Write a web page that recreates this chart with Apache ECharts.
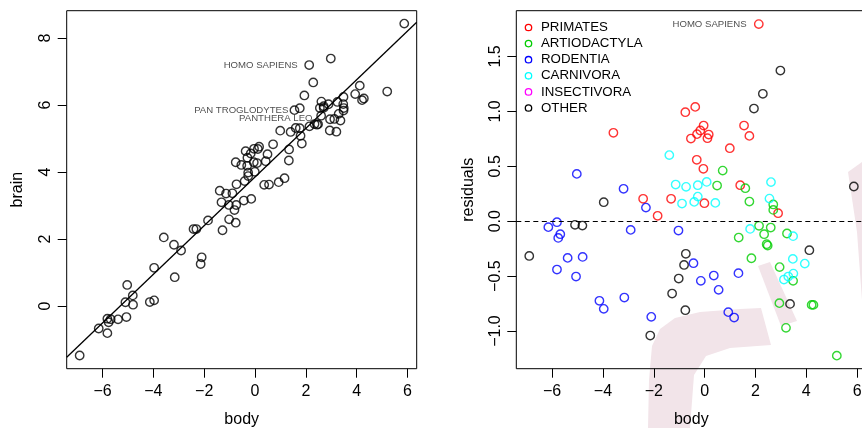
<!DOCTYPE html>
<html>
<head>
<meta charset="utf-8">
<script src="https://cdn.jsdelivr.net/npm/echarts@6/dist/echarts.min.js"></script>
<style>
  html, body { margin: 0; padding: 0; background: #fff; }
  #myChart { width: 862px; height: 428px; }
</style>
</head>
<body>
<div id="myChart"></div>
<script>
// log body weight (x) and residuals from the brain ~ body fit, per order
const orders = ['PRIMATES', 'ARTIODACTYLA', 'RODENTIA', 'CARNIVORA', 'INSECTIVORA', 'OTHER'];
const orderColors = ['#ff0000', '#00cd00', '#0000ff', '#00ffff', '#ff00ff', '#000000'];

const primatesBody = [2.13, -3.59, -0.76, -0.37, -0.04, -0.17, -0.30, -0.54, 0.16, 0.11, 1.55, 1.76, 0.99, -0.31, -0.05, 1.40, -2.42, -1.32, -0.01, 2.89, -1.85];
const primatesResid = [1.795, 0.805, 0.993, 1.041, 0.871, 0.826, 0.793, 0.753, 0.789, 0.756, 0.871, 0.777, 0.665, 0.559, 0.477, 0.328, 0.204, 0.204, 0.164, 0.073, 0.049];

const artioBody = [0.71, 0.49, 1.60, 1.76, 2.70, 2.70, 2.14, 2.60, 2.34, 1.34, 3.24, 2.44, 2.48, 1.84, 2.95, 3.48, 2.94, 4.21, 4.28, 3.20, 5.20];
const artioResid = [0.461, 0.325, 0.301, 0.179, 0.153, 0.103, -0.042, -0.058, -0.118, -0.149, -0.112, -0.209, -0.222, -0.337, -0.418, -0.543, -0.746, -0.762, -0.762, -0.971, -1.224];

const rodentBody = [-5.03, -3.19, -2.31, -5.81, -6.15, -5.68, -5.76, -2.91, -1.03, -5.39, -4.80, -5.81, -5.06, -4.14, -3.97, -3.16, -2.10, -0.44, -0.15, 0.36, 0.55, 1.33, 0.93, 1.16];
const rodentResid = [0.431, 0.295, 0.124, -0.009, -0.054, -0.118, -0.152, -0.079, -0.085, -0.334, -0.325, -0.440, -0.504, -0.725, -0.798, -0.695, -0.871, -0.382, -0.543, -0.495, -0.625, -0.473, -0.828, -0.877];

const carnBody = [-1.39, -1.14, -0.73, -0.27, 0.08, 2.61, -0.89, -0.41, -0.27, 0.42, 2.55, 1.79, 3.48, 3.47, 3.94, 3.49, 3.29, 3.12];
const carnResid = [0.602, 0.334, 0.313, 0.328, 0.358, 0.356, 0.161, 0.176, 0.224, 0.167, 0.206, -0.070, -0.136, -0.343, -0.386, -0.477, -0.504, -0.531];

const insectBody = [];
const insectResid = [];

const otherBody = [2.98, 2.29, 1.94, 5.87, -3.97, -5.10, -4.81, -6.90, -0.74, -0.81, -1.02, -1.28, -0.76, -2.14, 4.12, 3.36];
const otherResid = [1.372, 1.160, 1.026, 0.316, 0.173, -0.033, -0.040, -0.316, -0.297, -0.398, -0.522, -0.659, -0.810, -1.041, -0.264, -0.753];

const bodyByOrder = [primatesBody, artioBody, rodentBody, carnBody, insectBody, otherBody];
const residByOrder = [primatesResid, artioResid, rodentResid, carnResid, insectResid, otherResid];

// fitted line brain = a + b * body
const fitCoef = [3.853, 0.726];

// text labels (right end of text, in data units)
const leftLabels = ['HOMO SAPIENS', 'PAN TROGLODYTES', 'PANTHERA LEO'];
const leftLabelX = [1.68, 1.31, 2.26];
const leftLabelY = [7.20, 5.83, 5.61];
const rightLabels = ['HOMO SAPIENS'];
const rightLabelX = [1.65];
const rightLabelY = [1.797];

const xTicks = [-6, -4, -2, 0, 2, 4, 6];
const brainTicks = [0, 2, 4, 6, 8];
const residTicks = [-1.0, -0.5, 0.0, 0.5, 1.0, 1.5];

const xRange = [-7.41, 6.36];
const brainRange = [-1.866, 8.816];
const residRange = [-1.343, 1.917];

const FONT = '"Liberation Sans", Arial, Helvetica, sans-serif';
const minus = v => String(v).replace('-', '\u2212');

// brain values rebuilt from body and residual
const leftPoints = [];
bodyByOrder.forEach((xs, k) => {
  xs.forEach((x, i) => {
    leftPoints.push([x, fitCoef[0] + fitCoef[1] * x + residByOrder[k][i]]);
  });
});

const circle = color => ({
  color: 'rgba(0,0,0,0)',
  borderColor: color,
  borderWidth: 1.4
});

function axisX(gridIndex) {
  return {
    type: 'value',
    gridIndex,
    min: xRange[0],
    max: xRange[1],
    name: 'body',
    nameLocation: 'middle',
    nameGap: 43,
    nameTextStyle: { fontFamily: FONT, fontSize: 16, color: '#000' },
    splitLine: { show: false },
    axisLine: { show: false, onZero: false },
    axisTick: { show: true, length: 9, customValues: xTicks, lineStyle: { color: '#000', width: 1 } },
    axisLabel: {
      customValues: xTicks,
      margin: 15,
      fontFamily: FONT,
      fontSize: 16,
      color: '#000',
      formatter: v => minus(v)
    }
  };
}

function axisY(gridIndex, range, ticks, name, gap, fmt) {
  return {
    type: 'value',
    gridIndex,
    min: range[0],
    max: range[1],
    name,
    nameLocation: 'middle',
    nameGap: gap,
    nameTextStyle: { fontFamily: FONT, fontSize: 16, color: '#000' },
    splitLine: { show: false },
    axisLine: { show: false, onZero: false },
    axisTick: { show: true, length: 9, customValues: ticks, lineStyle: { color: '#000', width: 1 } },
    axisLabel: {
      customValues: ticks,
      rotate: 90,
      margin: 13,
      fontFamily: FONT,
      fontSize: 16,
      color: '#000',
      formatter: fmt
    }
  };
}

const labelSeries = (xs, ys, texts, xi, yi) => ({
  type: 'scatter',
  xAxisIndex: xi,
  yAxisIndex: yi,
  symbolSize: 0,
  silent: true,
  data: xs.map((x, i) => ({ value: [x, ys[i]], name: texts[i] })),
  label: {
    show: true,
    position: 'left',
    distance: 0,
    formatter: p => p.name,
    fontFamily: FONT,
    fontSize: 9.6,
    color: '#222'
  }
});

const series = [
  {
    type: 'line',
    xAxisIndex: 0,
    yAxisIndex: 0,
    data: xRange.map(x => [x, fitCoef[0] + fitCoef[1] * x]),
    symbol: 'none',
    lineStyle: { color: '#000', width: 1.3 },
    silent: true,
    z: 1
  },
  {
    type: 'scatter',
    xAxisIndex: 0,
    yAxisIndex: 0,
    data: leftPoints,
    symbol: 'circle',
    symbolSize: 8.4,
    itemStyle: circle('#000'),
    z: 2
  },
  labelSeries(leftLabelX, leftLabelY, leftLabels, 0, 0),
  labelSeries(rightLabelX, rightLabelY, rightLabels, 1, 1)
];

orders.forEach((name, k) => {
  series.push({
    name,
    type: 'scatter',
    xAxisIndex: 1,
    yAxisIndex: 1,
    data: bodyByOrder[k].map((x, i) => [x, residByOrder[k][i]]),
    symbol: 'circle',
    symbolSize: 8.4,
    itemStyle: circle(orderColors[k]),
    z: 2
  });
});

// zero reference line on the residual plot
series.push({
  type: 'line',
  xAxisIndex: 1,
  yAxisIndex: 1,
  data: [],
  markLine: {
    silent: true,
    symbol: 'none',
    label: { show: false },
    lineStyle: { color: '#000', width: 1.2, type: [5, 3.5] },
    data: [{ yAxis: 0 }]
  }
});

// faint pink watermark behind the right panel
const PINK = '#f2e4e9';
const graphics = [
  {
    type: 'polygon', z: -10, silent: true,
    shape: { points: [[648, 428], [649, 380], [652, 346], [660, 329], [675, 318], [700, 312], [740, 309], [761, 308], [771, 345], [730, 348], [706, 356], [694, 375], [690, 428]] },
    style: { fill: PINK }
  },
  {
    type: 'polygon', z: -10, silent: true,
    shape: { points: [[758, 266], [770, 262], [797, 321], [781, 326]] },
    style: { fill: PINK }
  },
  {
    type: 'polygon', z: -10, silent: true,
    shape: { points: [[848, 172], [862, 162], [862, 300], [857, 232]] },
    style: { fill: PINK }
  }
];

// legend drawn like R's legend(): small open circles + text
orders.forEach((name, k) => {
  const y = 27.5 + k * 16.1;
  graphics.push({
    type: 'circle',
    shape: { cx: 528.5, cy: y, r: 3.2 },
    style: { fill: 'none', stroke: orderColors[k], lineWidth: 1.3 }
  });
  graphics.push({
    type: 'text',
    x: 541,
    y: y,
    style: { text: name, font: '13.3px ' + FONT, fill: '#000', verticalAlign: 'middle' }
  });
});

const gridBox = left => ({
  left,
  top: 10.7,
  width: 350,
  height: 358,
  outerBoundsMode: 'none',
  containLabel: false,
  show: true,
  borderColor: '#000',
  borderWidth: 1,
  backgroundColor: 'transparent'
});

const option = {
  animation: false,
  backgroundColor: '#fff',
  grid: [gridBox(66.7), gridBox(516.3)],
  xAxis: [axisX(0), axisX(1)],
  yAxis: [
    axisY(0, brainRange, brainTicks, 'brain', 41, v => minus(v)),
    axisY(1, residRange, residTicks, 'residuals', 40, v => minus(v.toFixed(1)))
  ],
  series,
  graphic: graphics
};

const myChart = echarts.init(document.getElementById('myChart'), null, { renderer: 'canvas' });
myChart.setOption(option, true);
</script>
</body>
</html>
